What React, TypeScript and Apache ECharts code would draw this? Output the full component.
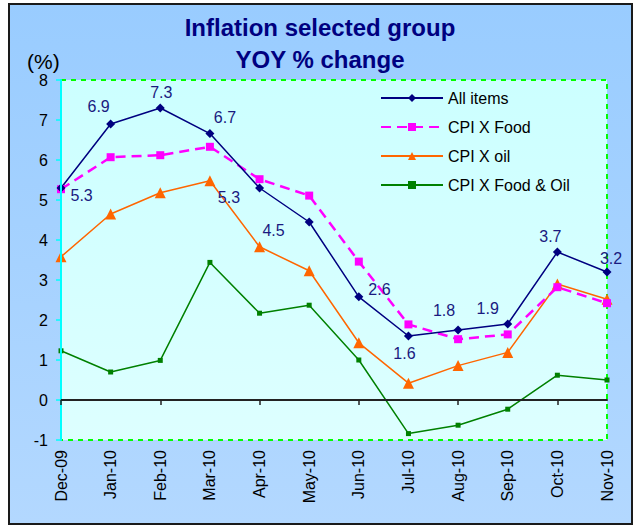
import React, { useEffect, useRef } from "react";
import * as echarts from "echarts";

const categories = ["Dec-09", "Jan-10", "Feb-10", "Mar-10", "Apr-10", "May-10", "Jun-10", "Jul-10", "Aug-10", "Sep-10", "Oct-10", "Nov-10"];
const allItems = [5.3, 6.9, 7.3, 6.66, 5.3, 4.45, 2.58, 1.6, 1.75, 1.9, 3.7, 3.2];
const allItemsLabels = ["5.3", "6.9", "7.3", "6.7", "5.3", "4.5", "2.6", "1.6", "1.8", "1.9", "3.7", "3.2"];
const cpiXFood = [5.27, 6.07, 6.12, 6.33, 5.52, 5.11, 3.46, 1.89, 1.52, 1.64, 2.82, 2.42];
const cpiXOil = [3.58, 4.65, 5.18, 5.48, 3.83, 3.23, 1.43, 0.42, 0.86, 1.19, 2.9, 2.52];
const cpiXFoodOil = [1.23, 0.7, 0.99, 3.44, 2.17, 2.37, 1.0, -0.84, -0.63, -0.23, 0.62, 0.5];
const yTicks = { min: -1, max: 8, interval: 1 };

// label placement for "All items" (styling only)
const labelPlace: Array<[string, number, number]> = [
  ["right", 0, 7],
  ["top", -12, 0],
  ["top", 1, 2],
  ["top", 15, 1],
  ["left", -10, 9],
  ["left", -15, 8],
  ["right", 0, -7],
  ["bottom", -4, 0],
  ["top", -14, -2],
  ["top", -20, 2],
  ["top", -7, 2],
  ["top", 4, 4],
];

const FONT = "'Liberation Sans', Arial, sans-serif";

export default function App() {
  const ref = useRef<HTMLDivElement>(null);
  useEffect(() => {
    if (!ref.current) return;
    const chart = echarts.init(ref.current, undefined, { renderer: "svg" });
    const gridLeft = 61, gridTop = 80, gridRight = 27, gridBottom = 87;
    const W = 634, H = 527;
    chart.setOption({
      animation: false,
      title: {
        text: "Inflation selected group\nYOY % change",
        left: 320,
        top: 11,
        padding: 0,
        textAlign: "center",
        textStyle: { fontFamily: FONT, fontSize: 24, fontWeight: "bold", color: "#000080", lineHeight: 32 },
      },
      graphic: [
        {
          type: "rect",
          z: -10,
          silent: true,
          shape: { x: 9, y: 4, width: 623, height: 520 },
          style: {
            fill: new echarts.graphic.LinearGradient(0, 0, 0, 1, [
              { offset: 0, color: "#99CCFF" },
              { offset: 1, color: "#B3D8FF" },
            ]),
            stroke: "#1a1a1a",
            lineWidth: 2,
          },
        },
        {
          type: "rect",
          z: -9,
          silent: true,
          shape: { x: gridLeft, y: gridTop, width: W - gridLeft - gridRight, height: H - gridTop - gridBottom },
          style: {
            fill: new echarts.graphic.LinearGradient(0, 0, 0, 1, [
              { offset: 0, color: "#CCFFFF" },
              { offset: 1, color: "#DDFFFF" },
            ]),
            stroke: "#00FF00",
            lineWidth: 2,
            lineDash: [5, 5],
          },
        },
        {
          type: "text",
          z: 5,
          left: 27,
          top: 51,
          style: { text: "(%)", fontFamily: FONT, fontSize: 21, fill: "#000" },
        },
      ],
      legend: {
        orient: "vertical",
        left: 375,
        top: 85,
        itemWidth: 62,
        itemHeight: 10,
        itemGap: 13,
        data: ["All items", "CPI X Food", "CPI X oil", "CPI X Food & Oil"],
        textStyle: { fontFamily: FONT, fontSize: 16, color: "#000" },
      },
      grid: { left: gridLeft, right: gridRight, top: gridTop, bottom: gridBottom },
      xAxis: [
        {
          type: "category",
          data: categories,
          boundaryGap: false,
          axisLine: { show: false, onZero: false },
          axisTick: { show: false },
          axisLabel: { rotate: 90, margin: 10, fontFamily: FONT, fontSize: 16, color: "#000" },
        },
        {
          type: "category",
          data: categories,
          boundaryGap: false,
          position: "bottom",
          z: 5,
          axisLine: { show: true, onZero: true, lineStyle: { color: "#222", width: 2 } },
          axisTick: { show: true, length: 5, inside: false, alignWithLabel: true, lineStyle: { color: "#222", width: 1.5 } },
          axisLabel: { show: false },
        },
      ],
      yAxis: {
        type: "value",
        min: yTicks.min,
        max: yTicks.max,
        interval: yTicks.interval,
        splitLine: { show: false },
        z: 5,
        axisLine: { show: true, lineStyle: { color: "#00FFFF", width: 2 } },
        axisTick: { show: true, length: 5, lineStyle: { color: "#00FFFF", width: 1.5 } },
        axisLabel: { margin: 13, fontFamily: FONT, fontSize: 16, color: "#000" },
      },
      series: [
        {
          name: "CPI X Food & Oil",
          type: "line",
          data: cpiXFoodOil,
          symbol: "rect",
          symbolSize: 5,
          color: "#008000",
          lineStyle: { color: "#008000", width: 1.5 },
          itemStyle: { color: "#008000" },
        },
        {
          name: "CPI X oil",
          type: "line",
          data: cpiXOil,
          symbol: "triangle",
          symbolSize: 11,
          color: "#FF6600",
          lineStyle: { color: "#FF6600", width: 1.5 },
          itemStyle: { color: "#FF6600" },
        },
        {
          name: "CPI X Food",
          type: "line",
          data: cpiXFood,
          symbol: "rect",
          symbolSize: 8,
          color: "#FF00FF",
          lineStyle: { color: "#FF00FF", width: 2.5, type: [10, 6] },
          itemStyle: { color: "#FF00FF" },
        },
        {
          name: "All items",
          type: "line",
          data: allItems.map((v, i) => ({
            value: v,
            label: {
              show: true,
              formatter: allItemsLabels[i],
              position: labelPlace[i][0],
              offset: [labelPlace[i][1], labelPlace[i][2]],
            },
          })),
          symbol: "diamond",
          symbolSize: 9,
          color: "#000080",
          lineStyle: { color: "#000080", width: 1.5 },
          itemStyle: { color: "#000080" },
          label: { fontFamily: FONT, fontSize: 16, color: "#1a1a80" },
        },
      ],
    });
    return () => chart.dispose();
  }, []);
  return <div ref={ref} style={{ position: "absolute", left: 0, top: 0, width: 634, height: 527 }} />;
}
